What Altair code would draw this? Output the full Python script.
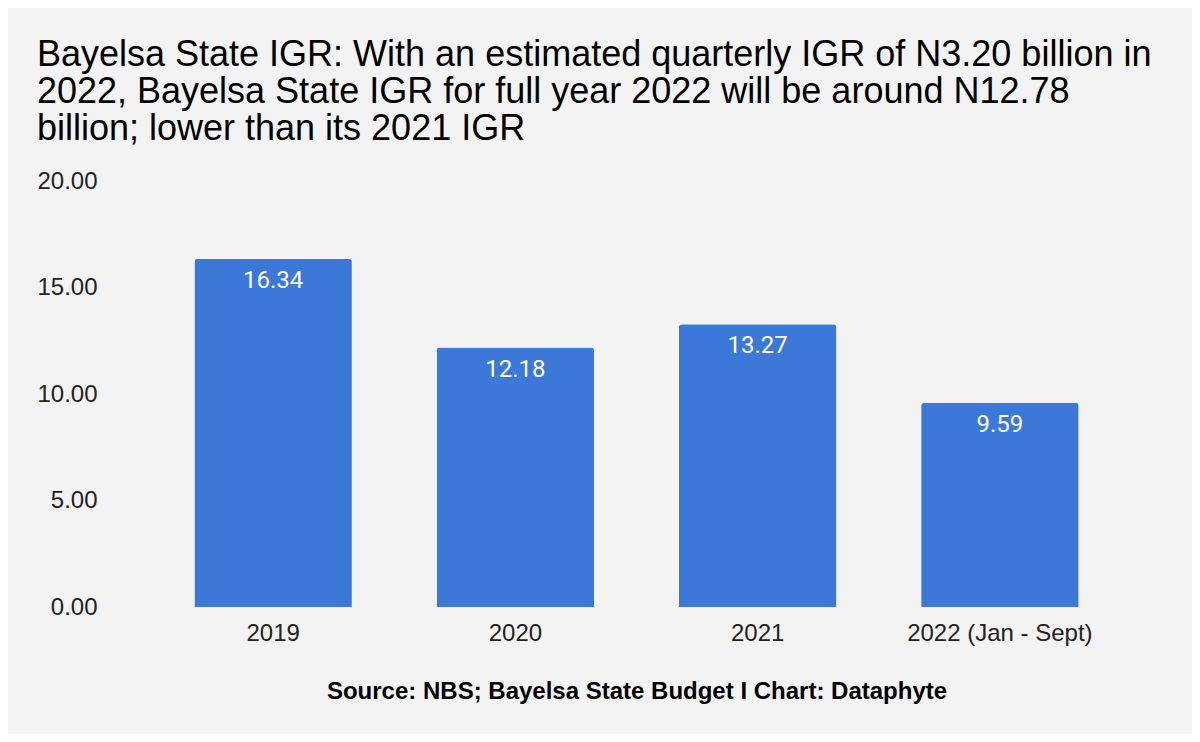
import altair as alt
import pandas as pd

years = ["2019", "2020", "2021", "2022 (Jan - Sept)"]
igr = [16.34, 12.18, 13.27, 9.59]
y_ticks = [0, 5, 10, 15, 20]

title_lines = [
    "Bayelsa State IGR: With an estimated quarterly IGR of N3.20 billion in",
    "2022, Bayelsa State IGR for full year 2022 will be around N12.78",
    "billion; lower than its 2021 IGR",
]
source_text = "Source: NBS; Bayelsa State Budget I Chart: Dataphyte"

df = pd.DataFrame({"year": years, "igr": igr})

x_enc = alt.X(
    "year:N",
    sort=years,
    scale=alt.Scale(paddingInner=0.35, paddingOuter=0.175),
    axis=alt.Axis(
        title=source_text,
        titleFont="Liberation Sans",
        titleFontSize=24,
        titleFontWeight="bold",
        titleColor="#000000",
        titlePadding=34,
        labelAngle=0,
        labelFont="Liberation Sans",
        labelFontSize=24,
        labelColor="#222222",
        labelPadding=14,
        labelLimit=0,
        domain=False,
        ticks=False,
        grid=False,
    ),
)

y_enc = alt.Y(
    "igr:Q",
    scale=alt.Scale(domain=[0, 20], nice=False),
    axis=alt.Axis(
        title=None,
        values=y_ticks,
        format=".2f",
        labelFont="Liberation Sans",
        labelFontSize=24,
        labelColor="#222222",
        labelPadding=55,
        domain=False,
        ticks=False,
        grid=False,
    ),
)

bars = alt.Chart(df).mark_bar(
    color="#3c78d8", cornerRadiusTopLeft=3, cornerRadiusTopRight=3
).encode(x=x_enc, y=y_enc)

labels = alt.Chart(df).mark_text(
    baseline="top", dy=10, color="#ffffff", font="Roboto", fontSize=24
).encode(x=alt.X("year:N", sort=years), y="igr:Q", text=alt.Text("igr:Q", format=".2f"))

chart = (
    alt.layer(bars, labels)
    .properties(
        width=969,
        height=426,
        background="#f3f3f3",
        padding={"left": 144, "top": 173, "right": 71, "bottom": 127},
        autosize=alt.AutoSizeParams(type="none"),
        title=alt.TitleParams(
            text=title_lines,
            anchor="start",
            frame="bounds",
            font="Liberation Sans",
            fontSize=36,
            fontWeight="normal",
            lineHeight=37,
            color="#000000",
            offset=21,
        ),
    )
    .configure_view(stroke=None)
)

chart.save("out.html", embed_options={"renderer": "svg", "actions": False})
